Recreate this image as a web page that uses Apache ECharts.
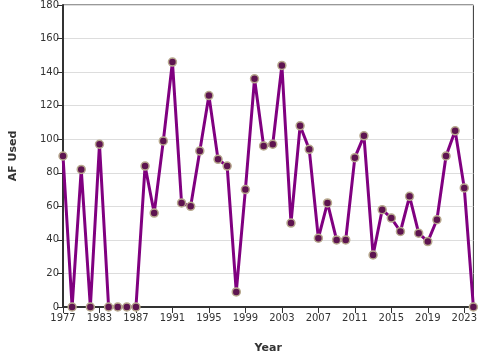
<!DOCTYPE html>
<html><head><meta charset="utf-8">
<script src="https://cdn.jsdelivr.net/npm/echarts@6/dist/echarts.min.js"></script>
<style>html,body{margin:0;padding:0;background:#fff}#c{width:480px;height:360px}</style>
</head><body><div id="c"></div>
<script>
const years = [1977,1978,1980,1982,1983,1984,1985,1986,1987,1988,1989,1990,1991,1992,1993,1994,1995,1996,1997,1998,1999,2000,2001,2002,2003,2004,2005,2006,2007,2008,2009,2010,2011,2012,2013,2014,2015,2016,2017,2018,2019,2020,2021,2022,2023,2024];
const afUsed = [90,0,82,0,97,0,0,0,0,84,56,99,146,62,60,93,126,88,84,9,70,136,96,97,144,50,108,94,41,62,40,40,89,102,31,58,53,45,66,44,39,52,90,105,71,0];
const yTicks = [0,20,40,60,80,100,120,140,160,180];

const chart = echarts.init(document.getElementById('c'), null, {renderer:'canvas'});
chart.setOption({
  animation:false,
  grid:{left:63,right:5,top:5,bottom:53,show:true,borderColor:'#333',borderWidth:1,containLabel:false},
  xAxis:{
    type:'category', data:years.map(String), boundaryGap:false,
    name:'Year', nameLocation:'middle', nameGap:36,
    nameTextStyle:{fontFamily:'DejaVu Sans',fontSize:11,fontWeight:'bold',color:'#333'},
    axisLine:{lineStyle:{color:'#333',width:2}},
    axisTick:{show:true,interval:3,length:6,lineStyle:{color:'#333',width:1}},
    axisLabel:{interval:3,fontFamily:'DejaVu Sans',fontSize:10,color:'#333',margin:6},
    splitLine:{show:false}
  },
  yAxis:{
    type:'value', min:yTicks[0], max:yTicks[yTicks.length-1], interval:20,
    name:'AF Used', nameLocation:'middle', nameGap:44,
    nameTextStyle:{fontFamily:'DejaVu Sans',fontSize:11,fontWeight:'bold',color:'#333'},
    axisLine:{show:true,lineStyle:{color:'#333',width:2}},
    axisTick:{show:true,length:6,lineStyle:{color:'#333',width:1}},
    axisLabel:{fontFamily:'DejaVu Sans',fontSize:10,color:'#333',margin:4},
    splitLine:{show:true,lineStyle:{color:'#ddd',width:1}}
  },
  series:[{
    type:'line', data:afUsed, showAllSymbol:true,
    lineStyle:{color:'#800080',width:3},
    symbol:'circle', symbolSize:8,
    itemStyle:{color:'#5e1450',borderColor:'#b8a98e',borderWidth:1.5}
  }]
});
</script></body></html>
